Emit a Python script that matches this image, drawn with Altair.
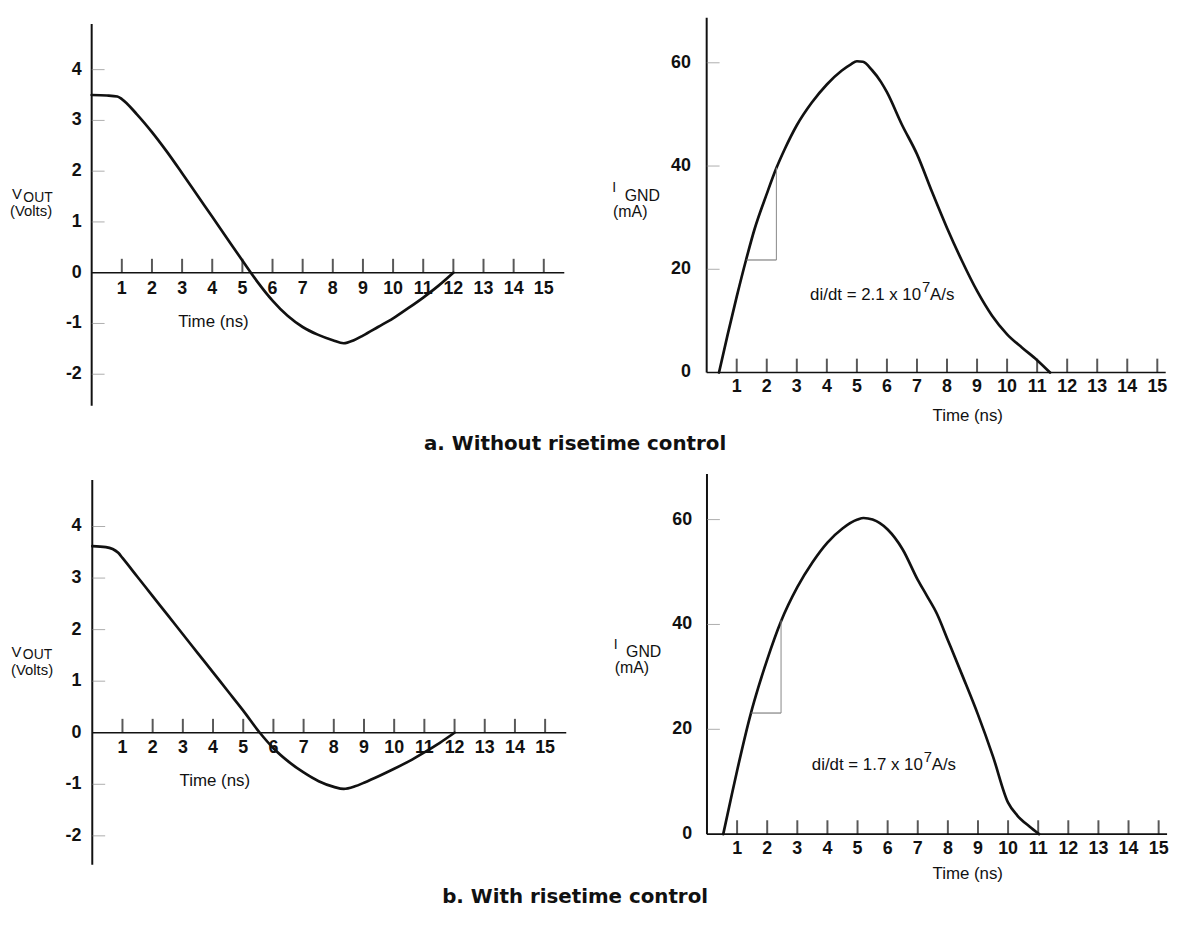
import altair as alt
import pandas as pd

LABEL_FONT = "Liberation Sans"
CAPTION_FONT = "DejaVu Sans"
INK = "#111111"

# ---------------- data ----------------
x_tick_values = list(range(1, 16))
x_tick_text = [str(v) for v in x_tick_values]

vout_tick_values = [4, 3, 2, 1, 0, -1, -2]
vout_tick_text = ["4", "3", "2", "1", "0", "-1", "-2"]
vout_tick_marks = [4, 3, 2, 1, -1, -2]

ignd_tick_values = [60, 40, 20, 0]
ignd_tick_text = ["60", "40", "20", "0"]
ignd_tick_marks = [60, 40, 20]

# a. Without risetime control
time_vout_a = [0, 0.5, 0.85, 1.0, 1.5, 2.0, 2.5, 3.0, 3.5, 4.0, 4.5, 5.0, 5.5, 6.0,
               6.5, 7.0, 7.5, 8.0, 8.36, 8.7, 9.0, 9.5, 10.0, 10.5, 11.0, 11.5, 12.0]
vout_a = [3.50, 3.49, 3.47, 3.42, 3.12, 2.77, 2.38, 1.96, 1.53, 1.10, 0.67, 0.24, -0.18, -0.55,
          -0.85, -1.07, -1.22, -1.33, -1.39, -1.33, -1.24, -1.07, -0.90, -0.70, -0.49, -0.26, 0.0]

time_ignd_a = [0.41, 0.7, 1.0, 1.31, 1.6, 2.0, 2.32, 2.6, 3.0, 3.5, 4.0, 4.5, 4.8, 5.0, 5.2,
               5.5, 5.8, 6.0, 6.5, 7.0, 7.5, 8.0, 8.5, 9.0, 9.5, 10.0, 10.5, 11.0, 11.43]
ignd_a = [0, 7.4, 14.7, 21.8, 27.9, 34.6, 39.6, 43.3, 47.9, 52.3, 55.8, 58.5, 59.7, 60.3, 60.2,
          58.6, 56.3, 54.3, 48.0, 42.3, 35.0, 28.0, 21.6, 15.8, 11.0, 7.4, 4.8, 2.4, 0]

slope_time_a = [1.31, 2.32]
slope_ignd_a = [21.8, 39.7]
didt_a = "di/dt = 2.1 x 10"

# b. With risetime control
time_vout_b = [0, 0.45, 0.86, 1.0, 1.5, 2.0, 2.5, 3.0, 3.5, 4.0, 4.5, 5.0, 5.55, 6.0, 6.5,
               7.0, 7.5, 8.0, 8.33, 8.7, 9.0, 9.5, 10.0, 10.5, 11.0, 11.5, 12.0]
vout_b = [3.62, 3.60, 3.49, 3.39, 3.02, 2.65, 2.28, 1.91, 1.54, 1.17, 0.80, 0.43, 0.0, -0.30, -0.56,
          -0.77, -0.94, -1.05, -1.09, -1.04, -0.97, -0.84, -0.70, -0.55, -0.38, -0.20, 0.0]

time_ignd_b = [0.54, 0.8, 1.0, 1.46, 1.7, 2.0, 2.46, 3.0, 3.5, 4.0, 4.5, 5.0, 5.2, 5.5, 6.0,
               6.5, 7.0, 7.3, 7.64, 8.0, 8.5, 9.0, 9.5, 10.0, 10.3, 10.7, 11.03]
ignd_b = [0, 6.9, 12.1, 23.1, 27.9, 33.3, 40.6, 47.1, 51.8, 55.6, 58.3, 60.0, 60.3, 60.0, 58.1,
          54.3, 48.5, 45.5, 42.0, 37.0, 30.0, 22.8, 14.8, 6.0, 3.6, 1.5, 0]

slope_time_b = [1.46, 2.46]
slope_ignd_b = [23.1, 40.8]
didt_b = "di/dt = 1.7 x 10"

caption_a = "a. Without risetime control"
caption_b = "b. With risetime control"

# ---------------- layout (page pixels) ----------------
GEOM = {
    "tl": dict(ox=8, oy=8, w=582, h=454, x0=92.4, sx=30.4, y0=271.0, sy=51.2),
    "tr": dict(ox=590, oy=8, w=586, h=454, x0=712.7, sx=30.3, y0=371.7, sy=5.207),
    "bl": dict(ox=8, oy=462, w=582, h=468, x0=93.0, sx=30.45, y0=735.0, sy=52.0),
    "br": dict(ox=590, oy=462, w=586, h=468, x0=713.0, sx=30.37, y0=837.3, sy=5.288),
}


def scales(g):
    xd = [(g["ox"] - g["x0"]) / g["sx"], (g["ox"] + g["w"] - g["x0"]) / g["sx"]]
    yd = [(g["y0"] - (g["oy"] + g["h"])) / g["sy"], (g["y0"] - g["oy"]) / g["sy"]]
    return (alt.Scale(domain=xd, nice=False, zero=False),
            alt.Scale(domain=yd, nice=False, zero=False))


def px_text(s, x, y, size, weight="normal", align="left", font=LABEL_FONT):
    return alt.Chart(pd.DataFrame({"s": [s]})).mark_text(
        align=align, baseline="alphabetic", fontSize=size, fontWeight=weight,
        font=font, color=INK
    ).encode(x=alt.value(x), y=alt.value(y), text="s:N")


def panel(g, curve_t, curve_y, tick_vals, tick_txt, tick_marks, axis_x_end,
          axis_y_lo, axis_y_hi, ylab_dx, xlab_dy, time_pos, extras):
    xs, ys = scales(g)

    def X(f):
        return alt.X(f"{f}:Q", scale=xs, axis=None)

    def Y(f):
        return alt.Y(f"{f}:Q", scale=ys, axis=None)

    yaxis = alt.Chart(pd.DataFrame({"x": [0.0], "y": [axis_y_lo], "y2": [axis_y_hi]})).mark_rule(
        color=INK, strokeWidth=2).encode(x=X("x"), y=Y("y"), y2=alt.Y2("y2"))
    xaxis = alt.Chart(pd.DataFrame({"x": [0.0], "x2": [axis_x_end], "y": [0.0]})).mark_rule(
        color=INK, strokeWidth=1.6).encode(x=X("x"), x2=alt.X2("x2"), y=Y("y"))
    xticks = alt.Chart(pd.DataFrame({"t": x_tick_values, "z": 0.0})).mark_tick(
        orient="vertical", size=14, thickness=2, yOffset=-7, color=INK
    ).encode(x=X("t"), y=Y("z"))
    yticks = alt.Chart(pd.DataFrame({"v": tick_marks, "z": 0.0})).mark_tick(
        orient="horizontal", size=13, thickness=1, xOffset=6.5, color="#8a8a8a"
    ).encode(x=X("z"), y=Y("v"))
    xlabels = alt.Chart(pd.DataFrame({"t": x_tick_values, "z": 0.0, "s": x_tick_text})).mark_text(
        font=LABEL_FONT, fontSize=18, fontWeight="bold", baseline="alphabetic", align="center",
        dy=xlab_dy, color=INK
    ).encode(x=X("t"), y=Y("z"), text="s:N")
    ylabels = alt.Chart(pd.DataFrame({"v": tick_vals, "z": 0.0, "s": tick_txt})).mark_text(
        font=LABEL_FONT, fontSize=18, fontWeight="bold", baseline="middle", align="right",
        dx=ylab_dx, color=INK
    ).encode(x=X("z"), y=Y("v"), text="s:N")
    curve = alt.Chart(pd.DataFrame({"t": curve_t, "y": curve_y})).mark_line(
        color=INK, strokeWidth=2.7, interpolate="monotone", strokeJoin="round", strokeCap="round"
    ).encode(x=X("t"), y=Y("y"))
    time_title = alt.Chart(pd.DataFrame({"t": [time_pos[0]], "y": [time_pos[1]], "s": ["Time (ns)"]})).mark_text(
        font=LABEL_FONT, fontSize=17, baseline="middle", align="center", color=INK
    ).encode(x=X("t"), y=Y("y"), text="s:N")

    layers = [yaxis, xaxis, yticks, xticks, xlabels, ylabels, curve, time_title]
    for e in extras:
        layers.append(e(X, Y))
    return alt.layer(*layers).properties(width=g["w"], height=g["h"])


def slope_layers(times, currents, didt_text, label_pos):
    def f(X, Y):
        horiz = alt.Chart(pd.DataFrame({"x": [times[0]], "x2": [times[1]], "y": [currents[0]]})).mark_rule(
            color="#666666", strokeWidth=1).encode(x=X("x"), x2=alt.X2("x2"), y=Y("y"))
        vert = alt.Chart(pd.DataFrame({"x": [times[1]], "y": [currents[0]], "y2": [currents[1]]})).mark_rule(
            color="#888888", strokeWidth=1).encode(x=X("x"), y=Y("y"), y2=alt.Y2("y2"))
        df = pd.DataFrame({"t": [label_pos[0]], "y": [label_pos[1]], "a": [didt_text], "b": ["7"], "c": ["A/s"]})
        main = alt.Chart(df).mark_text(font=LABEL_FONT, fontSize=17, align="right", baseline="alphabetic",
                                       dx=-1, color=INK).encode(x=X("t"), y=Y("y"), text="a:N")
        sup = alt.Chart(df).mark_text(font=LABEL_FONT, fontSize=15, align="left", baseline="alphabetic",
                                      dx=0, dy=-8, color=INK).encode(x=X("t"), y=Y("y"), text="b:N")
        unit = alt.Chart(df).mark_text(font=LABEL_FONT, fontSize=17, align="left", baseline="alphabetic",
                                       dx=8, color=INK).encode(x=X("t"), y=Y("y"), text="c:N")
        return alt.layer(horiz, vert, main, sup, unit)
    return f


def fixed(chart):
    def f(X, Y):
        return chart
    return f


tl = panel(GEOM["tl"], time_vout_a, vout_a, vout_tick_values, vout_tick_text, vout_tick_marks,
           15.68, -2.62, 4.90, -10, 21, (4.04, -0.98),
           [fixed(px_text("V", 4, 189, 15)), fixed(px_text("OUT", 15.5, 192, 14)),
            fixed(px_text("(Volts)", 2, 206, 15)),
            fixed(px_text(caption_a, 572, 442, 20, weight="bold", align="center", font=CAPTION_FONT))])

tr = panel(GEOM["tr"], time_ignd_a, ignd_a, ignd_tick_values, ignd_tick_text, ignd_tick_marks,
           15.28, 0, 68.7, -16, 19.5, (8.69, -8.5),
           [slope_layers(slope_time_a, slope_ignd_a, didt_a, (7.17, 14.1)),
            fixed(px_text("I", 27.5, 182, 14)), fixed(px_text("GND", 40, 190.3, 16)),
            fixed(px_text("(mA)", 28.3, 207, 16))])

bl = panel(GEOM["bl"], time_vout_b, vout_b, vout_tick_values, vout_tick_text, vout_tick_marks,
           15.7, -2.56, 4.90, -11, 20.5, (4.06, -0.94),
           [fixed(px_text("V", 3.5, 196.3, 15)), fixed(px_text("OUT", 15, 199, 14)),
            fixed(px_text("(Volts)", 3, 215, 15)),
            fixed(px_text(caption_b, 572, 445, 20, weight="bold", align="center", font=CAPTION_FONT))])

br = panel(GEOM["br"], time_ignd_b, ignd_b, ignd_tick_values, ignd_tick_text, ignd_tick_marks,
           15.28, 0, 68.7, -15, 19.8, (8.66, -7.7),
           [slope_layers(slope_time_b, slope_ignd_b, didt_b, (7.2, 12.2)),
            fixed(px_text("I", 29, 188.5, 14)), fixed(px_text("GND", 41.4, 196.3, 16)),
            fixed(px_text("(mA)", 30, 213, 16))])

chart = alt.concat(tl, tr, bl, br, columns=2, spacing=0, bounds="flush").properties(
    padding=0, background="white"
).configure_view(stroke=None)

chart.save("out.html", embed_options={"renderer": "svg", "actions": False})
